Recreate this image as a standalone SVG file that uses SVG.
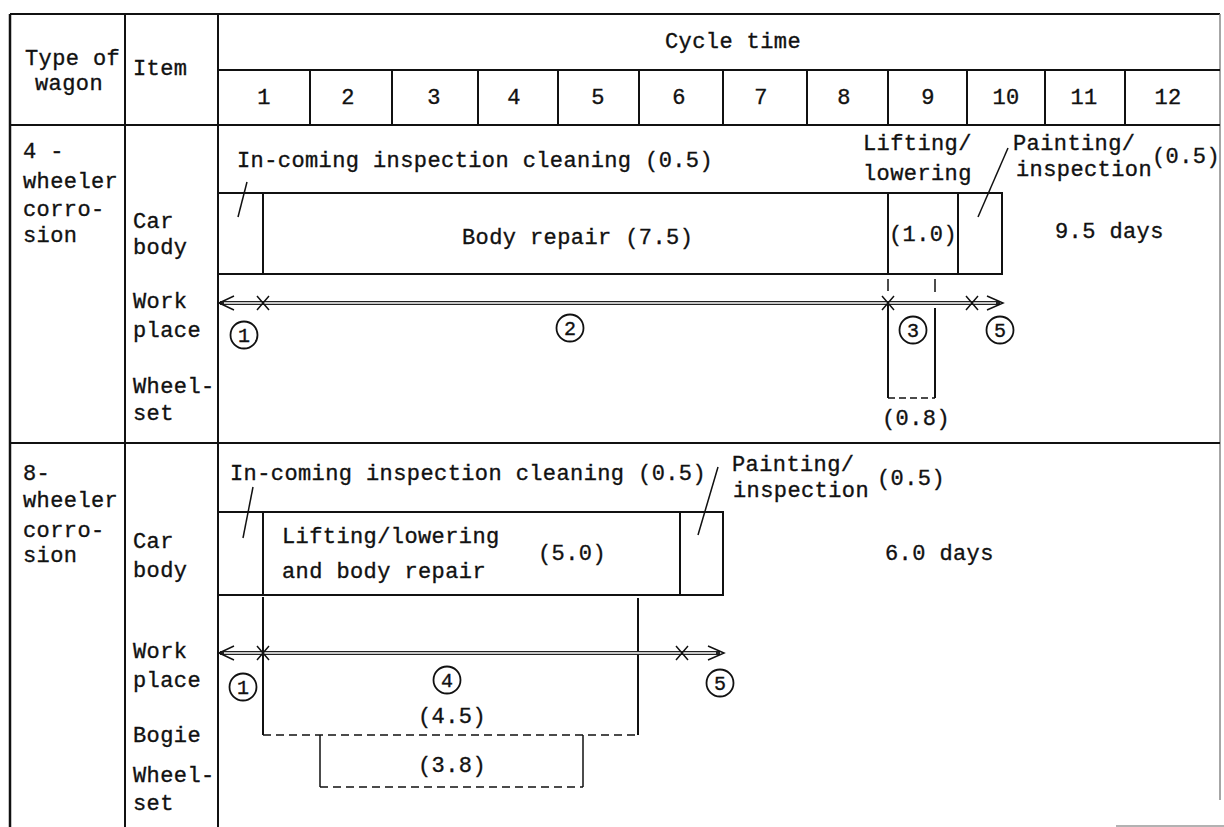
<svg xmlns="http://www.w3.org/2000/svg" width="1224" height="827" viewBox="0 0 1224 827">
<style>
text{font-family:"Liberation Mono","DejaVu Sans Mono",monospace;font-size:22px;letter-spacing:0.4px;fill:#111;stroke:#111;stroke-width:0.35}
.c{text-anchor:middle}
.n{font-size:20px;letter-spacing:0}
.g{stroke:#111;stroke-width:2;fill:none}
.t{stroke:#111;stroke-width:1.5;fill:none}
.d{stroke:#111;stroke-width:1.5;fill:none;stroke-dasharray:8 5}
.ci{stroke:#111;stroke-width:1.8;fill:none}
.ao{stroke:#222;stroke-width:4;fill:none}
.ai{stroke:#fff;stroke-width:1.4;fill:none}
.ah{stroke:#111;stroke-width:1.5;fill:none}
</style>
<rect width="1224" height="827" fill="#fff"/>
<g id="grid">
<line class="g" x1="10" y1="14" x2="1220" y2="14"/>
<line class="g" x1="10" y1="14" x2="10" y2="827" style="stroke-width:2.5"/>
<line class="g" x1="125" y1="14" x2="125" y2="827"/>
<line class="g" x1="218" y1="14" x2="218" y2="827"/>
<line class="t" x1="1220" y1="14" x2="1220" y2="800" style="stroke:#888"/>
<line class="g" x1="218" y1="70" x2="1220" y2="70"/>
<line class="g" x1="10" y1="125" x2="1220" y2="125"/>
<line class="g" x1="10" y1="443" x2="1220" y2="443"/>
<g>
<line class="g" x1="310" y1="70" x2="310" y2="125"/>
<line class="g" x1="392" y1="70" x2="392" y2="125"/>
<line class="g" x1="478" y1="70" x2="478" y2="125"/>
<line class="g" x1="558" y1="70" x2="558" y2="125"/>
<line class="g" x1="639" y1="70" x2="639" y2="125"/>
<line class="g" x1="723" y1="70" x2="723" y2="125"/>
<line class="g" x1="807" y1="70" x2="807" y2="125"/>
<line class="g" x1="888" y1="70" x2="888" y2="125"/>
<line class="g" x1="967" y1="70" x2="967" y2="125"/>
<line class="g" x1="1045" y1="70" x2="1045" y2="125"/>
<line class="g" x1="1125" y1="70" x2="1125" y2="125"/>
</g>
<line x1="1116" y1="826" x2="1224" y2="826" stroke="#999" stroke-width="1.5"/>
</g>
<g id="header">
<text x="25" y="65">Type of</text>
<text x="35" y="90">wagon</text>
<text x="133" y="75">Item</text>
<text x="665" y="48">Cycle time</text>
<text class="c" x="264" y="104">1</text>
<text class="c" x="348" y="104">2</text>
<text class="c" x="434" y="104">3</text>
<text class="c" x="514" y="104">4</text>
<text class="c" x="598" y="104">5</text>
<text class="c" x="679" y="104">6</text>
<text class="c" x="761" y="104">7</text>
<text class="c" x="844" y="104">8</text>
<text class="c" x="928" y="104">9</text>
<text class="c" x="1006" y="104">10</text>
<text class="c" x="1084" y="104">11</text>
<text class="c" x="1168" y="104">12</text>
</g>
<g id="four-wheeler">
<text x="23" y="158">4 -</text>
<text x="23" y="188">wheeler</text>
<text x="23" y="216">corro-</text>
<text x="23" y="242">sion</text>
<text x="133" y="228">Car</text>
<text x="133" y="254">body</text>
<text x="133" y="308">Work</text>
<text x="133" y="337">place</text>
<text x="133" y="393">Wheel-</text>
<text x="133" y="420">set</text>
<g id="fw-carbody">
<rect class="g" x="218" y="193" width="784" height="81"/>
<line class="g" x1="263" y1="193" x2="263" y2="274"/>
<line class="g" x1="888" y1="193" x2="888" y2="274"/>
<line class="g" x1="958" y1="193" x2="958" y2="274"/>
<text x="237" y="167">In-coming inspection cleaning (0.5)</text>
<line class="t" x1="247" y1="182" x2="238" y2="217"/>
<text x="462" y="244">Body repair (7.5)</text>
<text x="889" y="241">(1.0)</text>
<text x="863" y="150">Lifting/</text>
<text x="863" y="180">lowering</text>
<text x="1013" y="150">Painting/</text>
<text x="1016" y="176">inspection</text>
<text x="1152" y="163">(0.5)</text>
<line class="t" x1="1008" y1="148" x2="978" y2="217"/>
<text x="1055" y="238">9.5 days</text>
</g>
<g id="fw-wheelset">
<line class="t" x1="888" y1="279" x2="888" y2="291"/>
<line class="t" x1="935" y1="279" x2="935" y2="292"/>
<line class="g" x1="888" y1="303" x2="888" y2="398"/>
<line class="g" x1="935" y1="308" x2="935" y2="398"/>
<line class="d" x1="888" y1="398" x2="935" y2="398" style="stroke-dasharray:7 4"/>
<text x="882" y="425">(0.8)</text>
</g>
</g>
<g id="eight-wheeler">
<text x="23" y="480">8-</text>
<text x="23" y="507">wheeler</text>
<text x="23" y="537">corro-</text>
<text x="23" y="562">sion</text>
<text x="133" y="548">Car</text>
<text x="133" y="577">body</text>
<text x="133" y="658">Work</text>
<text x="133" y="687">place</text>
<text x="133" y="742">Bogie</text>
<text x="133" y="782">Wheel-</text>
<text x="133" y="810">set</text>
<g id="ew-carbody">
<rect class="g" x="218" y="512" width="505" height="83"/>
<line class="g" x1="263" y1="512" x2="263" y2="595"/>
<line class="g" x1="680" y1="512" x2="680" y2="595"/>
<text x="230" y="480">In-coming inspection cleaning (0.5)</text>
<line class="t" x1="253" y1="487" x2="243" y2="538"/>
<text x="732" y="471">Painting/</text>
<text x="733" y="497">inspection</text>
<text x="877" y="485">(0.5)</text>
<line class="t" x1="718" y1="467" x2="698" y2="535"/>
<text x="282" y="543">Lifting/lowering</text>
<text x="282" y="578">and body repair</text>
<text x="538" y="560">(5.0)</text>
<text x="885" y="560">6.0 days</text>
</g>
<g id="ew-bogie">
<line class="g" x1="263" y1="597" x2="263" y2="735"/>
<line class="g" x1="638" y1="598" x2="638" y2="735"/>
<line class="d" x1="263" y1="735" x2="638" y2="735"/>
<text x="418" y="723">(4.5)</text>
</g>
<g id="ew-wheelset">
<line class="t" x1="320" y1="735" x2="320" y2="787"/>
<line class="t" x1="583" y1="735" x2="583" y2="787"/>
<line class="d" x1="320" y1="787" x2="583" y2="787"/>
<text x="418" y="772">(3.8)</text>
</g>
</g>
<g id="connectors">
<g id="fw-workplace">
<line class="ao" x1="220" y1="303" x2="1000" y2="303"/>
<line class="ai" x1="224" y1="303" x2="996" y2="303"/>
<polyline class="ah" points="234,296 219,303 234,310"/>
<polyline class="ah" points="987,296 1003,303 987,310"/>
<path class="ah" d="M257,296 L269,310 M269,296 L257,310"/>
<path class="ah" d="M882,296 L894,310 M894,296 L882,310"/>
<path class="ah" d="M966,296 L978,310 M978,296 L966,310"/>
</g>
<g id="ew-workplace">
<line class="ao" x1="220" y1="653" x2="720" y2="653"/>
<line class="ai" x1="224" y1="653" x2="716" y2="653"/>
<polyline class="ah" points="234,646 219,653 234,660"/>
<polyline class="ah" points="708,646 724,653 708,660"/>
<path class="ah" d="M257,646 L269,660 M269,646 L257,660"/>
<path class="ah" d="M676,646 L688,660 M688,646 L676,660"/>
</g>
</g>
<g id="markers">
<circle class="ci" cx="244" cy="335" r="13.5"/><text class="c n" x="244" y="342">1</text>
<circle class="ci" cx="570" cy="328" r="13.5"/><text class="c n" x="570" y="335">2</text>
<circle class="ci" cx="913" cy="330" r="13.5"/><text class="c n" x="913" y="337">3</text>
<circle class="ci" cx="1000" cy="330" r="13.5"/><text class="c n" x="1000" y="337">5</text>
<circle class="ci" cx="243" cy="687" r="13.5"/><text class="c n" x="243" y="694">1</text>
<circle class="ci" cx="447" cy="680" r="13.5"/><text class="c n" x="447" y="687">4</text>
<circle class="ci" cx="720" cy="683" r="13.5"/><text class="c n" x="720" y="690">5</text>
</g>
</svg>
